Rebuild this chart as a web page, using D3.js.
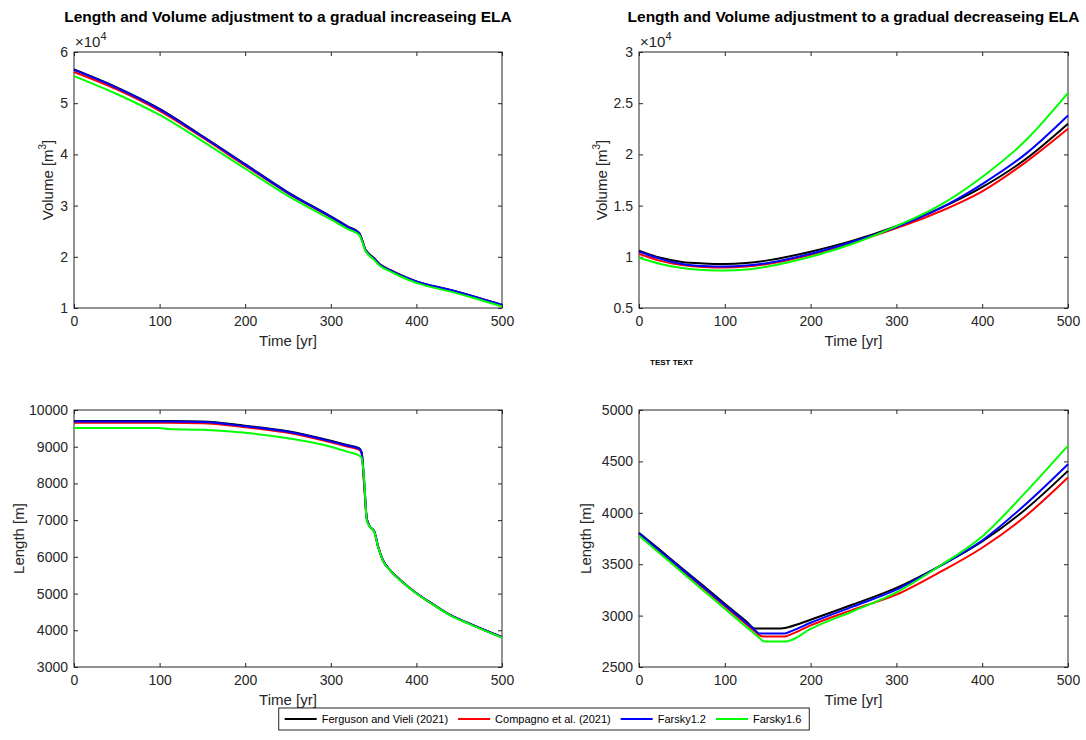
<!DOCTYPE html>
<html>
<head>
<meta charset="utf-8">
<script src="https://cdn.jsdelivr.net/npm/d3@7"></script>
<style>
  body { margin: 0; background: #fff; }
  svg { font-family: "Liberation Sans", Arial, sans-serif; }
</style>
</head>
<body>
<div id="chart"></div>
<script>
const width = 1086;
const height = 740;
const axisColor = "#262626";
const tickLength = 4;

const seriesNames = ["Ferguson and Vieli (2021)", "Compagno et al. (2021)", "Farsky1.2", "Farsky1.6"];
const seriesColors = ["#000000", "#ff0000", "#0000ff", "#00ff00"];
const timeTicks = [0, 100, 200, 300, 400, 500];

// volume, gradual increasing ELA (x 10^4 m3)
const volUpYears = [0, 50, 100, 150, 200, 250, 300, 320, 333, 337, 340, 344, 350, 357, 370, 381, 400, 440, 470, 500];
const volUpFerguson = [5.66, 5.31, 4.89, 4.36, 3.81, 3.26, 2.79, 2.59, 2.47, 2.31, 2.16, 2.07, 1.98, 1.86, 1.74, 1.65, 1.52, 1.35, 1.21, 1.06];
const volUpCompagno = [5.61, 5.27, 4.85, 4.33, 3.78, 3.24, 2.77, 2.57, 2.46, 2.30, 2.15, 2.06, 1.97, 1.85, 1.73, 1.64, 1.51, 1.34, 1.20, 1.05];
const volUpFarsky12 = [5.65, 5.30, 4.88, 4.35, 3.80, 3.25, 2.78, 2.58, 2.46, 2.30, 2.15, 2.06, 1.97, 1.85, 1.73, 1.64, 1.52, 1.35, 1.21, 1.06];
const volUpFarsky16 = [5.53, 5.18, 4.77, 4.26, 3.72, 3.19, 2.73, 2.54, 2.43, 2.28, 2.13, 2.04, 1.95, 1.83, 1.71, 1.62, 1.49, 1.32, 1.18, 1.03];

// volume, gradual decreasing ELA (x 10^4 m3)
const volDownYears = [0, 25, 50, 75, 100, 125, 150, 200, 250, 300, 350, 400, 450, 500];
const volDownFerguson = [1.06, 0.99, 0.95, 0.935, 0.93, 0.94, 0.965, 1.05, 1.16, 1.30, 1.47, 1.68, 1.95, 2.30];
const volDownCompagno = [1.03, 0.96, 0.92, 0.90, 0.895, 0.905, 0.93, 1.02, 1.14, 1.28, 1.44, 1.64, 1.92, 2.25];
const volDownFarsky12 = [1.05, 0.98, 0.93, 0.91, 0.905, 0.915, 0.94, 1.03, 1.15, 1.29, 1.47, 1.71, 2.00, 2.38];
const volDownFarsky16 = [0.99, 0.93, 0.89, 0.87, 0.865, 0.875, 0.905, 1.00, 1.13, 1.30, 1.50, 1.78, 2.13, 2.60];

// length, gradual increasing ELA (m)
const lenUpYears = [0, 50, 100, 110, 150, 200, 250, 300, 320, 333, 336, 339, 342, 345, 351, 355, 361, 370, 381, 400, 420, 440, 460, 480, 500];
const lenUpFerguson = [9700, 9700, 9700, 9700, 9690, 9570, 9420, 9160, 9040, 8960, 8850, 8000, 7050, 6850, 6680, 6300, 5900, 5620, 5370, 5010, 4700, 4410, 4200, 4000, 3810];
const lenUpCompagno = [9650, 9650, 9650, 9650, 9640, 9530, 9380, 9120, 9000, 8920, 8820, 7950, 7050, 6850, 6680, 6300, 5900, 5620, 5370, 5010, 4700, 4410, 4200, 4000, 3810];
const lenUpFarsky12 = [9685, 9685, 9685, 9685, 9675, 9555, 9405, 9145, 9025, 8945, 8840, 8050, 7050, 6850, 6680, 6300, 5900, 5620, 5370, 5010, 4700, 4410, 4200, 4000, 3810];
const lenUpFarsky16 = [9510, 9510, 9510, 9480, 9460, 9380, 9230, 9000, 8860, 8760, 8700, 8100, 7000, 6840, 6670, 6290, 5890, 5610, 5360, 5000, 4690, 4400, 4190, 3990, 3800];

// length, gradual decreasing ELA (m)
const lenDownYears = [0, 25, 50, 75, 100, 125, 135, 140, 145, 150, 160, 170, 175, 200, 250, 300, 350, 400, 450, 500];
const lenDownFerguson = [3806, 3635, 3460, 3290, 3115, 2945, 2874, 2874, 2874, 2874, 2874, 2880, 2890, 2960, 3110, 3270, 3480, 3722, 4030, 4408];
const lenDownCompagno = [3790, 3615, 3440, 3265, 3090, 2915, 2845, 2810, 2796, 2796, 2796, 2796, 2810, 2905, 3060, 3204, 3420, 3660, 3964, 4343];
const lenDownFarsky12 = [3800, 3626, 3452, 3278, 3104, 2930, 2860, 2825, 2825, 2825, 2825, 2825, 2840, 2930, 3090, 3252, 3478, 3731, 4078, 4472];
const lenDownFarsky16 = [3777, 3600, 3422, 3245, 3067, 2890, 2820, 2785, 2750, 2748, 2748, 2748, 2755, 2870, 3045, 3226, 3480, 3770, 4194, 4653];

const panels = [
  { left: 74, top: 52, right: 502, bottom: 308,
    title: "Length and Volume adjustment to a gradual increaseing ELA",
    years: volUpYears, series: [volUpFerguson, volUpCompagno, volUpFarsky12, volUpFarsky16],
    yDomain: [1, 6], yTicks: [1, 2, 3, 4, 5, 6], exponent: true, volume: true, yLabelX: 49 },
  { left: 639, top: 52, right: 1068, bottom: 308,
    title: "Length and Volume adjustment to a gradual decreaseing ELA",
    years: volDownYears, series: [volDownFerguson, volDownCompagno, volDownFarsky12, volDownFarsky16],
    yDomain: [0.5, 3], yTicks: [0.5, 1, 1.5, 2, 2.5, 3], exponent: true, volume: true, yLabelX: 603 },
  { left: 74, top: 410, right: 502, bottom: 667,
    years: lenUpYears, series: [lenUpFerguson, lenUpCompagno, lenUpFarsky12, lenUpFarsky16],
    yDomain: [3000, 10000], yTicks: d3.range(3000, 10001, 1000), yLabelX: 20 },
  { left: 639, top: 410, right: 1068, bottom: 667,
    years: lenDownYears, series: [lenDownFerguson, lenDownCompagno, lenDownFarsky12, lenDownFarsky16],
    yDomain: [2500, 5000], yTicks: d3.range(2500, 5001, 500), yLabelX: 587 }
];

const svg = d3.select("#chart").append("svg")
  .attr("width", width)
  .attr("height", height);

const styleAxis = g => {
  g.select(".domain").remove();
  g.selectAll("line").attr("stroke", axisColor);
  g.selectAll("text").attr("fill", axisColor).attr("font-size", 14);
};

const panel = p => selection => {
  let x = d3.scaleLinear([0, 500], [p.left, p.right]);
  let y = d3.scaleLinear(p.yDomain, [p.bottom, p.top]);
  let g = selection.append("g");

  g.append("g")
    .attr("transform", `translate(0,${p.bottom})`)
    .call(d3.axisBottom(x).tickValues(timeTicks).tickSize(-tickLength).tickPadding(8))
    .call(styleAxis);
  g.append("g")
    .attr("transform", `translate(0,${p.top})`)
    .call(d3.axisTop(x).tickValues(timeTicks).tickSize(-tickLength).tickFormat(""))
    .call(styleAxis);
  g.append("g")
    .attr("transform", `translate(${p.left},0)`)
    .call(d3.axisLeft(y).tickValues(p.yTicks).tickSize(-tickLength).tickPadding(6).tickFormat(d => String(d)))
    .call(styleAxis);
  g.append("g")
    .attr("transform", `translate(${p.right},0)`)
    .call(d3.axisRight(y).tickValues(p.yTicks).tickSize(-tickLength).tickFormat(""))
    .call(styleAxis);

  g.append("rect")
    .attr("x", p.left).attr("y", p.top)
    .attr("width", p.right - p.left).attr("height", p.bottom - p.top)
    .attr("fill", "none")
    .attr("stroke", axisColor)
    .attr("stroke-width", 1);

  let line = d3.line()
    .x((d, i) => x(p.years[i]))
    .y(d => y(d))
    .curve(d3.curveMonotoneX);
  g.selectAll(".series")
    .data(p.series)
    .join("path")
    .attr("class", "series")
    .attr("fill", "none")
    .attr("stroke", (d, i) => seriesColors[i])
    .attr("stroke-width", 2)
    .attr("stroke-linejoin", "round")
    .attr("d", line);

  g.append("text")
    .attr("x", (p.left + p.right) / 2)
    .attr("y", p.bottom + 38)
    .attr("text-anchor", "middle")
    .attr("font-size", 15)
    .attr("fill", axisColor)
    .text("Time [yr]");

  let yLabel = g.append("text")
    .attr("transform", `translate(${p.yLabelX},${(p.top + p.bottom) / 2}) rotate(-90)`)
    .attr("text-anchor", "middle")
    .attr("dominant-baseline", "middle")
    .attr("font-size", 15)
    .attr("fill", axisColor);
  if (p.volume) {
    yLabel.append("tspan").text("Volume [m");
    yLabel.append("tspan").attr("dy", -6).attr("font-size", 10).text("3");
    yLabel.append("tspan").attr("dy", 6).text("]");
  } else {
    yLabel.text("Length [m]");
  }

  if (p.exponent) {
    let e = g.append("text")
      .attr("x", p.left + 1)
      .attr("y", p.top - 5)
      .attr("font-size", 15)
      .attr("fill", axisColor);
    e.append("tspan").text("\u00d710");
    e.append("tspan").attr("dy", -7).attr("font-size", 11).text("4");
  }

  if (p.title) {
    g.append("text")
      .attr("x", (p.left + p.right) / 2)
      .attr("y", 22)
      .attr("text-anchor", "middle")
      .attr("font-size", 15.5)
      .attr("font-weight", "bold")
      .attr("fill", "#000")
      .text(p.title);
  }
};

panels.forEach(p => svg.call(panel(p)));

svg.append("text")
  .attr("x", 650)
  .attr("y", 365)
  .attr("font-size", 8)
  .attr("font-weight", "bold")
  .attr("fill", "#000")
  .text("TEST TEXT");

// legend
const legend = svg.append("g");
const legendTop = 708;
const legendHeight = 22;
const sampleLength = 32;
let cursor = 0;
const items = legend.selectAll(".item")
  .data(seriesNames)
  .join("g")
  .attr("class", "item");
items.append("line")
  .attr("y1", legendTop + legendHeight / 2)
  .attr("y2", legendTop + legendHeight / 2)
  .attr("stroke", (d, i) => seriesColors[i])
  .attr("stroke-width", 2);
items.append("text")
  .attr("y", legendTop + legendHeight / 2)
  .attr("dominant-baseline", "central")
  .attr("font-size", 11)
  .attr("fill", "#000")
  .text(d => d);
items.each(function () {
  let item = d3.select(this);
  let textWidth = item.select("text").node().getComputedTextLength();
  item.select("line").attr("x1", cursor + 6).attr("x2", cursor + 6 + sampleLength);
  item.select("text").attr("x", cursor + 6 + sampleLength + 5);
  cursor += 6 + sampleLength + 5 + textWidth + 4;
});
const legendWidth = cursor + 4;
const legendLeft = 544 - legendWidth / 2;
legend.insert("rect", ":first-child")
  .attr("x", 0)
  .attr("y", legendTop)
  .attr("width", legendWidth)
  .attr("height", legendHeight)
  .attr("fill", "#fff")
  .attr("stroke", axisColor);
legend.attr("transform", `translate(${legendLeft},0)`);
</script>
</body>
</html>
